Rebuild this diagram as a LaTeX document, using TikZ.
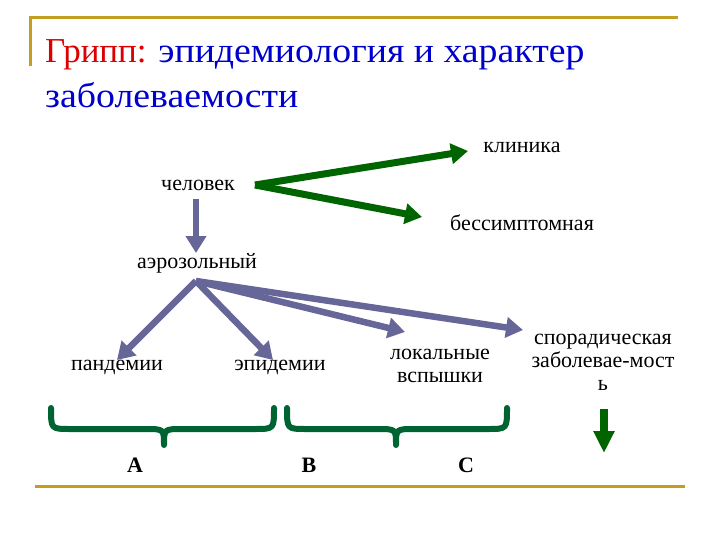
\documentclass[tikz,border=0pt]{standalone}
\usepackage{fontspec}
\setmainfont{Liberation Serif}
\usetikzlibrary{arrows.meta}
\definecolor{gold}{RGB}{196,158,32}
\definecolor{tred}{RGB}{220,0,0}
\definecolor{tblue}{RGB}{0,0,204}
\definecolor{agreen}{RGB}{0,100,0}
\definecolor{bgreen}{RGB}{0,100,50}
\definecolor{apurple}{RGB}{102,102,153}
\tikzset{
  lbl/.style={font=\fontsize{22}{23}\selectfont, inner sep=0pt, anchor=base, align=center},
  ttl/.style={font=\fontsize{35}{40}\selectfont, inner sep=0pt, anchor=base west},
  frame/.style={draw=gold, line width=3pt},
  garrow/.style={draw=agreen, line width=7pt, -{Triangle[length=17pt,width=20pt]}},
  parrow/.style={draw=apurple, line width=6.5pt, -{Triangle[length=17pt,width=20pt]}},
  brace/.style={draw=bgreen, line width=6pt, line cap=round, line join=round},
  abc/.style={font=\fontsize{22}{23}\selectfont\bfseries, inner sep=0pt, anchor=base}
}
\begin{document}
\begin{tikzpicture}[x=1pt,y=-1pt]
\useasboundingbox (0,0) rectangle (720,540);
% frame lines
\draw[frame] (30,66) -- (30,18) -- (678,18);
\draw[frame] (35,486) -- (685,486);
% title
\node[ttl] (t1) at (45,63) {\textcolor{tred}{Грипп:} \textcolor{tblue}{\addfontfeature{FakeStretch=1.08}эпидемиология и характер}};
\node[ttl] (t2) at (45,108) {\textcolor{tblue}{\addfontfeature{FakeStretch=1.08}заболеваемости}};
% nodes
\node[lbl] (man) at (198,191) {человек};
\node[lbl] (aer) at (197,268) {аэрозольный};
\node[lbl] (clin) at (522,153) {клиника};
\node[lbl] (asym) at (522,230) {бессимптомная};
\node[lbl] (pand) at (117,370) {пандемии};
\node[lbl] (epid) at (280,370) {эпидемии};
\node[lbl] (loc) at (440,382) {локальные\\вспышки};
\node[lbl] (spor) at (603,390) {спорадическая\\заболевае-мост\\ь};
\node[abc] (A) at (135,472) {A};
\node[abc] (B) at (309,472) {B};
\node[abc] (C) at (466,472) {C};
% coordinates
\coordinate (gs) at (255,185);
\coordinate (gclin) at (468,151);
\coordinate (gasym) at (422,217);
\coordinate (manb) at (196,199);
\coordinate (aert) at (196,253);
\coordinate (as) at (196,281);
\coordinate (tpand) at (117,360);
\coordinate (tepid) at (273,360);
\coordinate (tloc) at (405,332);
\coordinate (tspor) at (523,330);
\coordinate (dtop) at (604,409);
\coordinate (dtip) at (604,453);
% arrows
\draw[garrow] (gs) -- (gclin);
\draw[garrow] (gs) -- (gasym);
\draw[parrow] (manb) -- (aert);
\draw[parrow] (as) -- (tpand);
\draw[parrow] (as) -- (tepid);
\draw[parrow] (as) -- (tloc);
\draw[parrow] (as) -- (tspor);
\draw[draw=agreen, line width=8pt, -{Triangle[length=22pt,width=20pt]}] (dtop) -- (dtip);
% braces
\draw[brace] (51,408) .. controls (51,429) .. (70,429) -- (145,429) .. controls (164,429) .. (164,445) .. controls (164,429) .. (183,429) -- (255,429) .. controls (274,429) .. (274,408);
\draw[brace] (287,408) .. controls (287,429) .. (306,429) -- (377,429) .. controls (396,429) .. (396,445) .. controls (396,429) .. (415,429) -- (488,429) .. controls (507,429) .. (507,408);
\end{tikzpicture}
\end{document}
